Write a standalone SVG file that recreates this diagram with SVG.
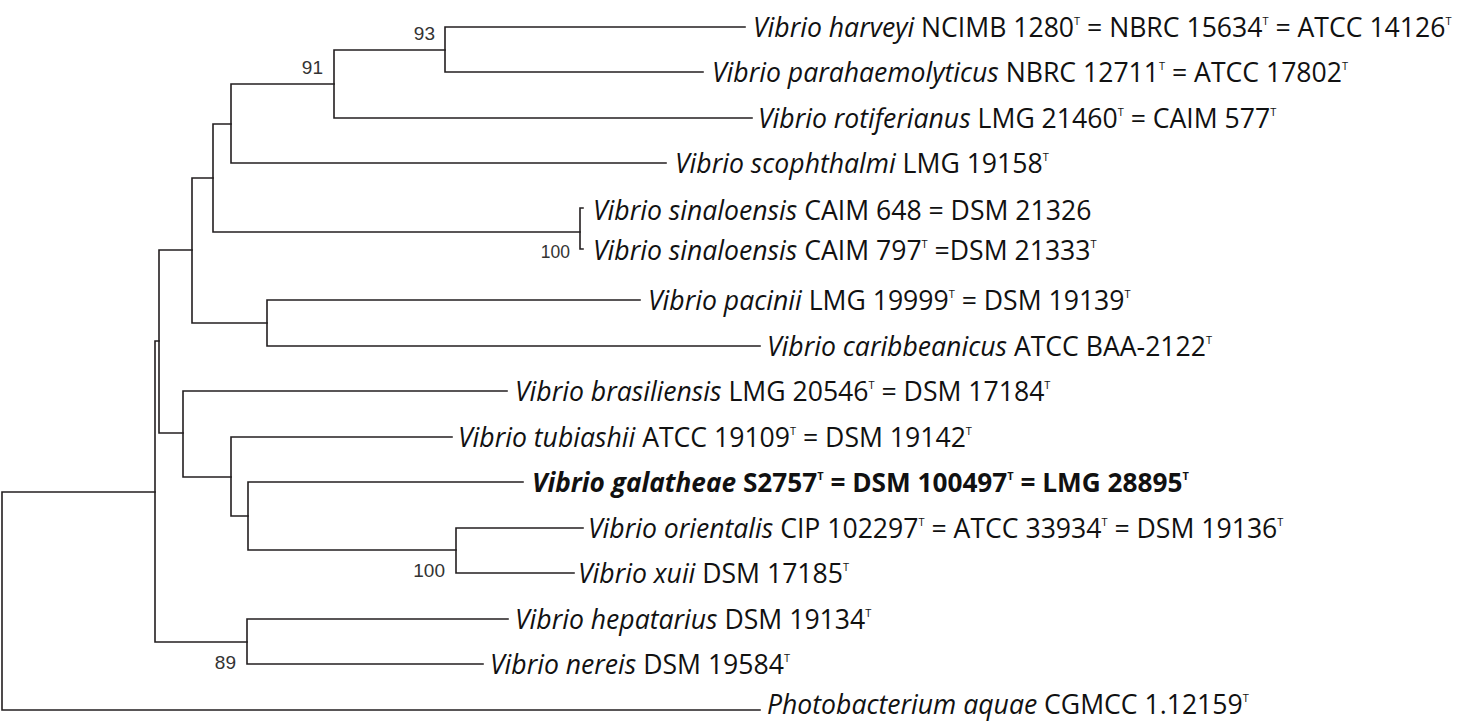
<svg xmlns="http://www.w3.org/2000/svg" width="1460" height="721" viewBox="0 0 1460 721">
<style>
.edge{stroke:#231f20;stroke-width:1.6;fill:none;stroke-linecap:square}
.lbl{font-family:"Open Sans","Liberation Sans",sans-serif;font-size:26.6px;fill:#111}
.sp{font-style:italic}
.b{font-weight:bold;font-size:26.2px}
.sup{font-size:11px}
.bs{font-family:"Liberation Sans",Arial,sans-serif;font-size:19px;fill:#333;text-anchor:end}
</style>
<rect width="1460" height="721" fill="#fff"/>
<g id="connectors">
<path class="edge" d="M2,492V710H760M2,492H155"/>
<path class="edge" d="M155,341V642M155,341H159M155,642H247"/>
<path class="edge" d="M159,250V433M159,250H192M159,433H183"/>
<path class="edge" d="M192,178V323M192,178H213M192,323H267"/>
<path class="edge" d="M213,124V232M213,124H231M213,232H580"/>
<path class="edge" d="M231,84V163M231,84H334M231,163H666"/>
<path class="edge" d="M334,50V118M334,50H445M334,118H752"/>
<path class="edge" d="M445,27V72M445,27H745M445,72H703"/>
<path class="edge" d="M583,208H580V249H583"/>
<path class="edge" d="M267,300V346M267,300H640M267,346H760"/>
<path class="edge" d="M183,391V477M183,391H507M183,477H231"/>
<path class="edge" d="M231,437V516M231,437H452M231,516H248"/>
<path class="edge" d="M248,482V550M248,482H523M248,550H456"/>
<path class="edge" d="M456,528V573M456,528H583M456,573H574"/>
<path class="edge" d="M247,619V664M247,619H508M247,664H483"/>
</g>
<g id="bootstrap">
<text class="bs" x="435" y="40">93</text>
<text class="bs" x="323" y="74">91</text>
<text class="bs" x="570" y="258" style="font-size:17.5px">100</text>
<text class="bs" x="445" y="577">100</text>
<text class="bs" x="236" y="669">89</text>
</g>
<g id="n-harveyi"><text class="lbl" x="753" y="37"><tspan class="sp">Vibrio harveyi</tspan> NCIMB 1280<tspan class="sup" dy="-12">T</tspan><tspan dy="12"> = NBRC 15634</tspan><tspan class="sup" dy="-12">T</tspan><tspan dy="12"> = ATCC 14126</tspan><tspan class="sup" dy="-12">T</tspan></text></g>
<g id="n-parahaemolyticus"><text class="lbl" x="712" y="82"><tspan class="sp">Vibrio parahaemolyticus</tspan> NBRC 12711<tspan class="sup" dy="-12">T</tspan><tspan dy="12"> = ATCC 17802</tspan><tspan class="sup" dy="-12">T</tspan></text></g>
<g id="n-rotiferianus"><text class="lbl" x="758" y="128"><tspan class="sp">Vibrio rotiferianus</tspan> LMG 21460<tspan class="sup" dy="-12">T</tspan><tspan dy="12"> = CAIM 577</tspan><tspan class="sup" dy="-12">T</tspan></text></g>
<g id="n-scophthalmi"><text class="lbl" x="675" y="173"><tspan class="sp">Vibrio scophthalmi</tspan> LMG 19158<tspan class="sup" dy="-12">T</tspan></text></g>
<g id="n-sinaloensis-648"><text class="lbl" x="593" y="220"><tspan class="sp">Vibrio sinaloensis</tspan> CAIM 648 = DSM 21326</text></g>
<g id="n-sinaloensis-797"><text class="lbl" x="593" y="260"><tspan class="sp">Vibrio sinaloensis</tspan> CAIM 797<tspan class="sup" dy="-12">T</tspan><tspan dy="12"> =DSM 21333</tspan><tspan class="sup" dy="-12">T</tspan></text></g>
<g id="n-pacinii"><text class="lbl" x="648" y="310"><tspan class="sp">Vibrio pacinii</tspan> LMG 19999<tspan class="sup" dy="-12">T</tspan><tspan dy="12"> = DSM 19139</tspan><tspan class="sup" dy="-12">T</tspan></text></g>
<g id="n-caribbeanicus"><text class="lbl" x="767" y="356"><tspan class="sp">Vibrio caribbeanicus</tspan> ATCC BAA-2122<tspan class="sup" dy="-12">T</tspan></text></g>
<g id="n-brasiliensis"><text class="lbl" x="515" y="401"><tspan class="sp">Vibrio brasiliensis</tspan> LMG 20546<tspan class="sup" dy="-12">T</tspan><tspan dy="12"> = DSM 17184</tspan><tspan class="sup" dy="-12">T</tspan></text></g>
<g id="n-tubiashii"><text class="lbl" x="458" y="447"><tspan class="sp">Vibrio tubiashii</tspan> ATCC 19109<tspan class="sup" dy="-12">T</tspan><tspan dy="12"> = DSM 19142</tspan><tspan class="sup" dy="-12">T</tspan></text></g>
<g id="n-galatheae"><text class="lbl b" x="532" y="492"><tspan class="sp">Vibrio galatheae</tspan> S2757<tspan class="sup" dy="-12">T</tspan><tspan dy="12"> = DSM 100497</tspan><tspan class="sup" dy="-12">T</tspan><tspan dy="12"> = LMG 28895</tspan><tspan class="sup" dy="-12">T</tspan></text></g>
<g id="n-orientalis"><text class="lbl" x="588" y="538"><tspan class="sp">Vibrio orientalis</tspan> CIP 102297<tspan class="sup" dy="-12">T</tspan><tspan dy="12"> = ATCC 33934</tspan><tspan class="sup" dy="-12">T</tspan><tspan dy="12"> = DSM 19136</tspan><tspan class="sup" dy="-12">T</tspan></text></g>
<g id="n-xuii"><text class="lbl" x="578" y="583"><tspan class="sp">Vibrio xuii</tspan> DSM 17185<tspan class="sup" dy="-12">T</tspan></text></g>
<g id="n-hepatarius"><text class="lbl" x="515" y="629"><tspan class="sp">Vibrio hepatarius</tspan> DSM 19134<tspan class="sup" dy="-12">T</tspan></text></g>
<g id="n-nereis"><text class="lbl" x="490" y="674"><tspan class="sp">Vibrio nereis</tspan> DSM 19584<tspan class="sup" dy="-12">T</tspan></text></g>
<g id="n-photobacterium"><text class="lbl" x="767" y="714"><tspan class="sp">Photobacterium aquae</tspan> CGMCC 1.12159<tspan class="sup" dy="-12">T</tspan></text></g>
</svg>
